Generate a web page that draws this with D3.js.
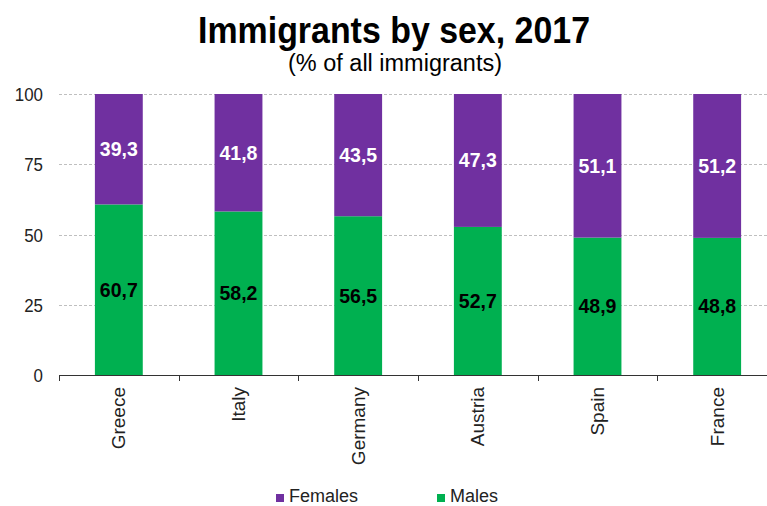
<!DOCTYPE html>
<html><head><meta charset="utf-8">
<script src="https://cdn.jsdelivr.net/npm/d3@7"></script>
<style>body{margin:0;background:#fff}svg{display:block;font-family:"Liberation Sans",Arial,sans-serif}</style>
</head><body>
<svg id="c" width="767" height="506"></svg>
<script>
const categories = ["Greece","Italy","Germany","Austria","Spain","France"];
const males = [60.7,58.2,56.5,52.7,48.9,48.8];
const females = [39.3,41.8,43.5,47.3,51.1,51.2];
const yTicks = [0,25,50,75,100];
const seriesNames = ["Females","Males"];
const colors = {Females:"#7030A0", Males:"#00B050"};

const svg = d3.select("#c");
const mLeft = 59, mRight = 777, mTop = 94, mBottom = 375;
const x = d3.scaleBand().domain(categories).range([mLeft,mRight]).paddingInner(0.6).paddingOuter(0.3);
const xb = d3.scaleBand().domain(categories).range([mLeft,mRight]);
const y = d3.scaleLinear().domain([0,100]).range([mBottom,mTop]);

// grid
svg.append("g").selectAll("line").data(yTicks.filter(d=>d>0)).join("line")
  .attr("x1",mLeft).attr("x2",767).attr("y1",d=>Math.round(y(d))+0.5).attr("y2",d=>Math.round(y(d))+0.5)
  .attr("stroke","#bfbfbf").attr("stroke-dasharray","3,2").attr("stroke-width",1);

// y labels
svg.append("g").selectAll("text").data(yTicks).join("text")
  .attr("x",43).attr("y",d=>y(d)+7).attr("text-anchor","end")
  .attr("font-size",19).attr("fill","#222")
  .attr("textLength",d=>String(d).length*9.4).attr("lengthAdjust","spacingAndGlyphs").text(d=>d);

const rows = categories.map((c,i)=>({cat:c,Males:males[i],Females:females[i]}));
const stack = d3.stack().keys(["Males","Females"])(rows);
svg.append("g").selectAll("g").data(stack).join("g").attr("fill",d=>colors[d.key])
  .selectAll("rect").data(d=>d).join("rect")
  .attr("x",d=>x(d.data.cat)).attr("width",x.bandwidth())
  .attr("y",d=>y(d[1])).attr("height",d=>y(d[0])-y(d[1]));

// labels
stack.forEach(s=>{
  svg.append("g").selectAll("text").data(s).join("text")
    .attr("x",d=>x(d.data.cat)+x.bandwidth()/2)
    .attr("y",d=>y((d[0]+d[1])/2)+7)
    .attr("text-anchor","middle").attr("font-weight","bold").attr("font-size",19.5)
    .attr("fill",s.key==="Females"?"#fff":"#000")
    .text(d=>d3.format(".1f")(d.data[s.key]).replace(".",","));
});

// x axis
svg.append("line").attr("x1",mLeft).attr("x2",767).attr("y1",mBottom+0.5).attr("y2",mBottom+0.5).attr("stroke","#333");
svg.append("g").selectAll("line").data(categories).join("line")
  .attr("x1",d=>Math.round(xb(d))+0.5).attr("x2",d=>Math.round(xb(d))+0.5)
  .attr("y1",mBottom).attr("y2",mBottom+6).attr("stroke","#333");
svg.append("g").selectAll("text").data(categories).join("text")
  .attr("transform",d=>`translate(${xb(d)+xb.bandwidth()/2+6.5},387) rotate(-90)`)
  .attr("text-anchor","end").attr("font-size",19).attr("fill","#222").text(d=>d);

// titles
svg.append("text").attr("x",394).attr("y",43).attr("text-anchor","middle")
  .attr("font-weight","bold").attr("font-size",37).attr("fill","#000")
  .attr("textLength",392).attr("lengthAdjust","spacingAndGlyphs").text("Immigrants by sex, 2017");
svg.append("text").attr("x",395).attr("y",71).attr("text-anchor","middle")
  .attr("font-size",23).attr("fill","#000")
  .attr("textLength",214).attr("lengthAdjust","spacingAndGlyphs").text("(% of all immigrants)");

// legend
const lx = [276,437];
seriesNames.forEach((n,i)=>{
  svg.append("rect").attr("x",lx[i]).attr("y",494).attr("width",8).attr("height",8).attr("fill",colors[n]);
  svg.append("text").attr("x",lx[i]+13).attr("y",502).attr("font-size",18).attr("fill","#222").text(n);
});
</script>
</body></html>
